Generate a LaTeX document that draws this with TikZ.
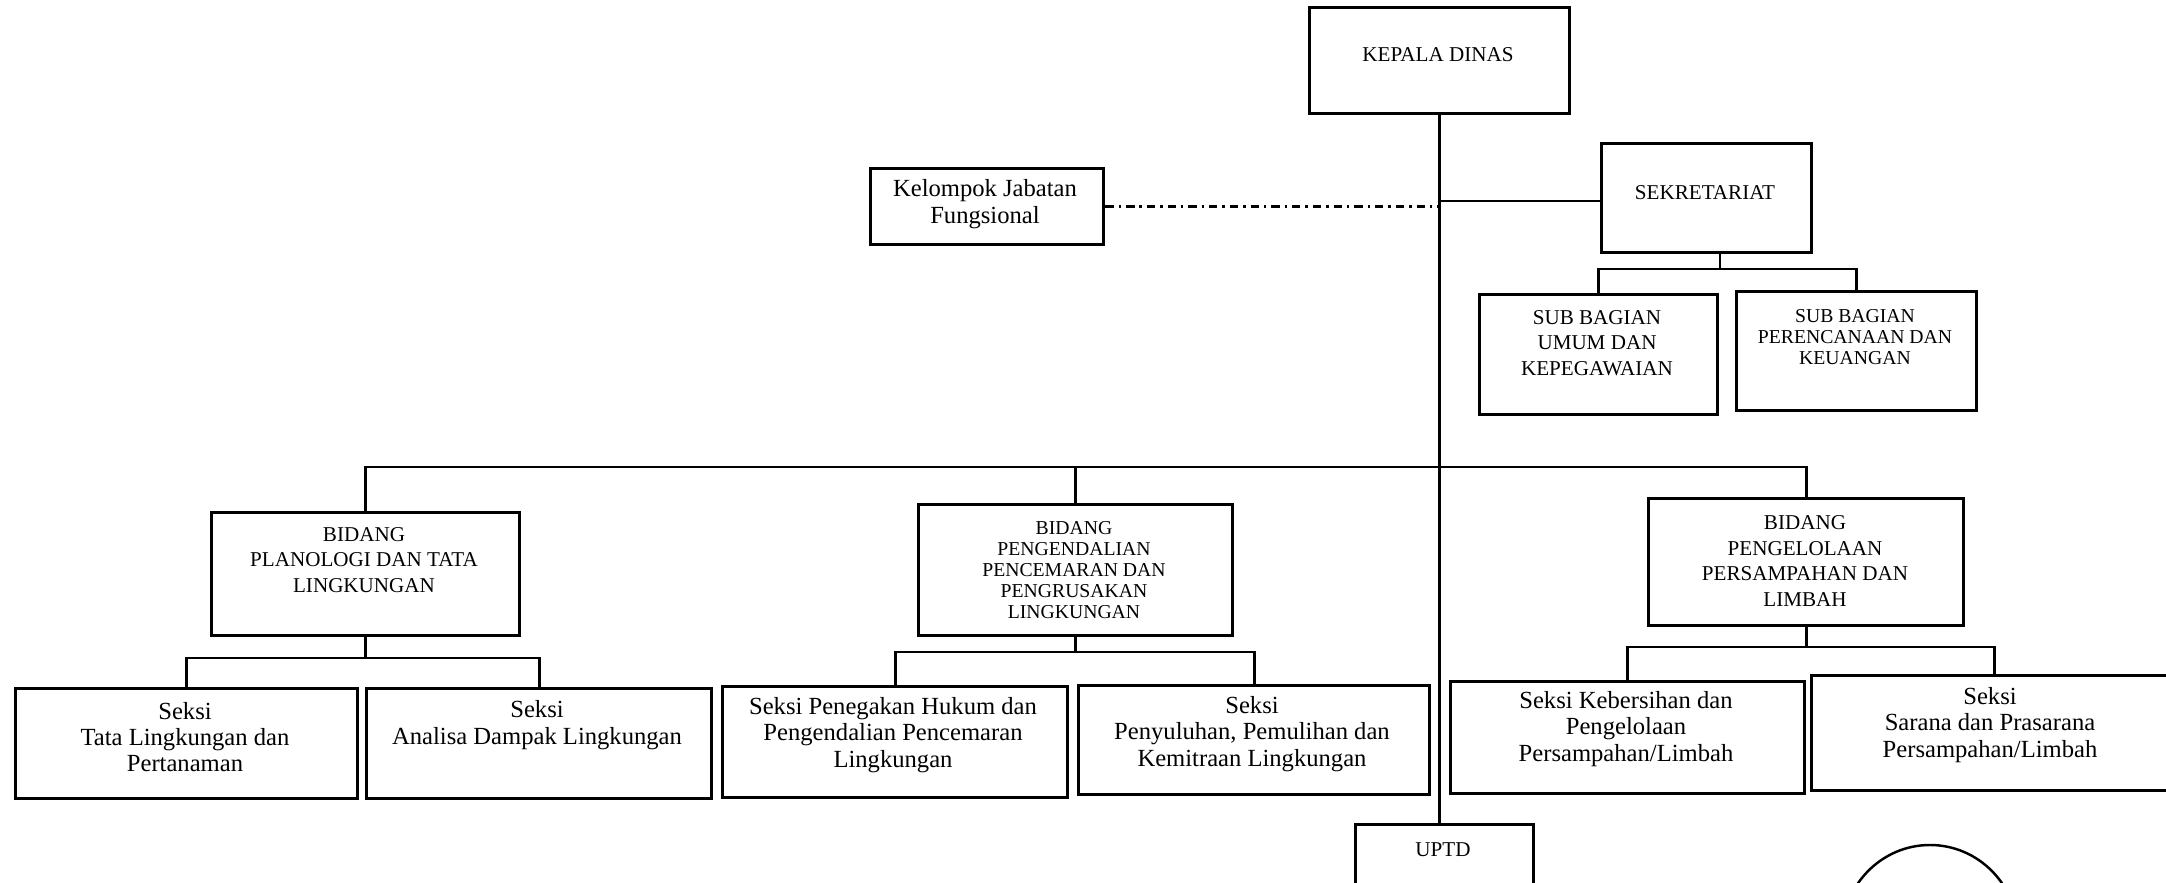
\documentclass[tikz,border=0pt]{standalone}
\usepackage{fontspec}
\setmainfont{Liberation Serif}
\begin{document}
\begin{tikzpicture}[x=0.01cm,y=-0.01cm,
  box/.style={draw, line width=0.9pt, inner sep=0pt, anchor=north west},
  conn/.style={line width=0.8pt},
  dashdot/.style={line width=0.8pt, dash pattern=on 2.4pt off 1.4pt on 0.7pt off 1.4pt},
  caps/.style={align=center, inner sep=0pt, font=\fontsize{6}{7.3}\selectfont},
  capsS/.style={align=center, inner sep=0pt, font=\fontsize{5.6}{6}\selectfont},
  low/.style={align=center, inner sep=0pt, font=\fontsize{7}{7.5}\selectfont}]
\useasboundingbox (0,0) rectangle (2166,883);
\clip (0,0) rectangle (2166,883);

% boxes
\node[box, minimum width=2.60cm, minimum height=1.06cm] (kepala) at (1308,6) {};
\node[box, minimum width=2.33cm, minimum height=0.76cm] (kelompok) at (869,167) {};
\node[box, minimum width=2.10cm, minimum height=1.09cm] (sek) at (1600,142) {};
\node[box, minimum width=2.38cm, minimum height=1.20cm] (umum) at (1478,293) {};
\node[box, minimum width=2.40cm, minimum height=1.19cm] (perenc) at (1735,290) {};
\node[box, minimum width=3.08cm, minimum height=1.23cm] (plano) at (210,511) {};
\node[box, minimum width=3.14cm, minimum height=1.31cm] (pengend) at (917,503) {};
\node[box, minimum width=3.15cm, minimum height=1.27cm] (pengel) at (1647,497) {};
\node[box, minimum width=3.42cm, minimum height=1.10cm] (tata) at (14,687) {};
\node[box, minimum width=3.45cm, minimum height=1.10cm] (analisa) at (365,687) {};
\node[box, minimum width=3.45cm, minimum height=1.11cm] (penegak) at (721,685) {};
\node[box, minimum width=3.51cm, minimum height=1.09cm] (penyul) at (1077,684) {};
\node[box, minimum width=3.54cm, minimum height=1.12cm] (kebers) at (1449,680) {};
\node[box, minimum width=3.65cm, minimum height=1.15cm] (sarana) at (1810,674) {};
\node[box, minimum width=1.78cm, minimum height=1.00cm] (uptd) at (1354,823) {};

% texts
\node[caps] (kepalaT) at (1438,55) {KEPALA DINAS};
\node[low] (kelompokT) at (985,204) {Kelompok Jabatan\\Fungsional};
\node[caps] (sekT) at (1705,193) {SEKRETARIAT};
\node[caps] (umumT) at (1597,343) {SUB BAGIAN\\UMUM DAN\\KEPEGAWAIAN};
\node[capsS] (perencT) at (1855,337) {SUB BAGIAN\\PERENCANAAN DAN\\KEUANGAN};
\node[caps] (planoT) at (364,560) {BIDANG\\PLANOLOGI DAN TATA\\LINGKUNGAN};
\node[capsS] (pengendT) at (1074,570) {BIDANG\\PENGENDALIAN\\PENCEMARAN DAN\\PENGRUSAKAN\\LINGKUNGAN};
\node[caps] (pengelT) at (1805,561) {BIDANG\\PENGELOLAAN\\PERSAMPAHAN DAN\\LIMBAH};
\node[low] (tataT) at (185,737) {Seksi\\Tata Lingkungan dan\\Pertanaman};
\node[low] (analisaT) at (537,725) {Seksi\\Analisa Dampak Lingkungan};
\node[low] (penegakT) at (893,735) {Seksi Penegakan Hukum dan\\Pengendalian Pencemaran\\Lingkungan};
\node[low] (penyulT) at (1252,734) {Seksi\\Penyuluhan, Pemulihan dan\\Kemitraan Lingkungan};
\node[low] (kebersT) at (1626,729) {Seksi Kebersihan dan\\Pengelolaan\\Persampahan/Limbah};
\node[low] (saranaT) at (1990,725) {Seksi\\Sarana dan Prasarana\\Persampahan/Limbah};
\node[caps] (uptdT) at (1443,850) {UPTD};

% connectors
\coordinate (j1) at (kepala.south |- 0,201);
\coordinate (sk) at (sek.south -| 1720,0);
\draw[conn] (kepala.south) -- (kepala.south |- uptd.north);
\draw[conn] (j1) -- (j1 -| sek.west);
\draw[dashdot] (kelompok.east) -- (kelompok.east -| j1);

\draw[conn] (sk) -- (sk |- 0,269);
\draw[conn] (umum.north) -- (umum.north |- 0,269) -- (perenc.north |- 0,269) -- (perenc.north);

\draw[conn] (plano.north) -- (plano.north |- 0,467) -- (pengel.north |- 0,467) -- (pengel.north);
\draw[conn] (pengend.north) -- (pengend.north |- 0,467);

\draw[conn] (plano.south) -- (plano.south |- 0,658);
\draw[conn] (tata.north) -- (tata.north |- 0,658) -- (analisa.north |- 0,658) -- (analisa.north);

\draw[conn] (pengend.south) -- (pengend.south |- 0,652);
\draw[conn] (penegak.north) -- (penegak.north |- 0,652) -- (penyul.north |- 0,652) -- (penyul.north);

\draw[conn] (pengel.south) -- (pengel.south |- 0,647);
\draw[conn] (kebers.north) -- (kebers.north |- 0,647) -- (sarana.north |- 0,647) -- (sarana.north);

% partial circle at bottom right
\draw[line width=0.7pt] (1930,935) ellipse [x radius=88, y radius=90];
\end{tikzpicture}
\end{document}
